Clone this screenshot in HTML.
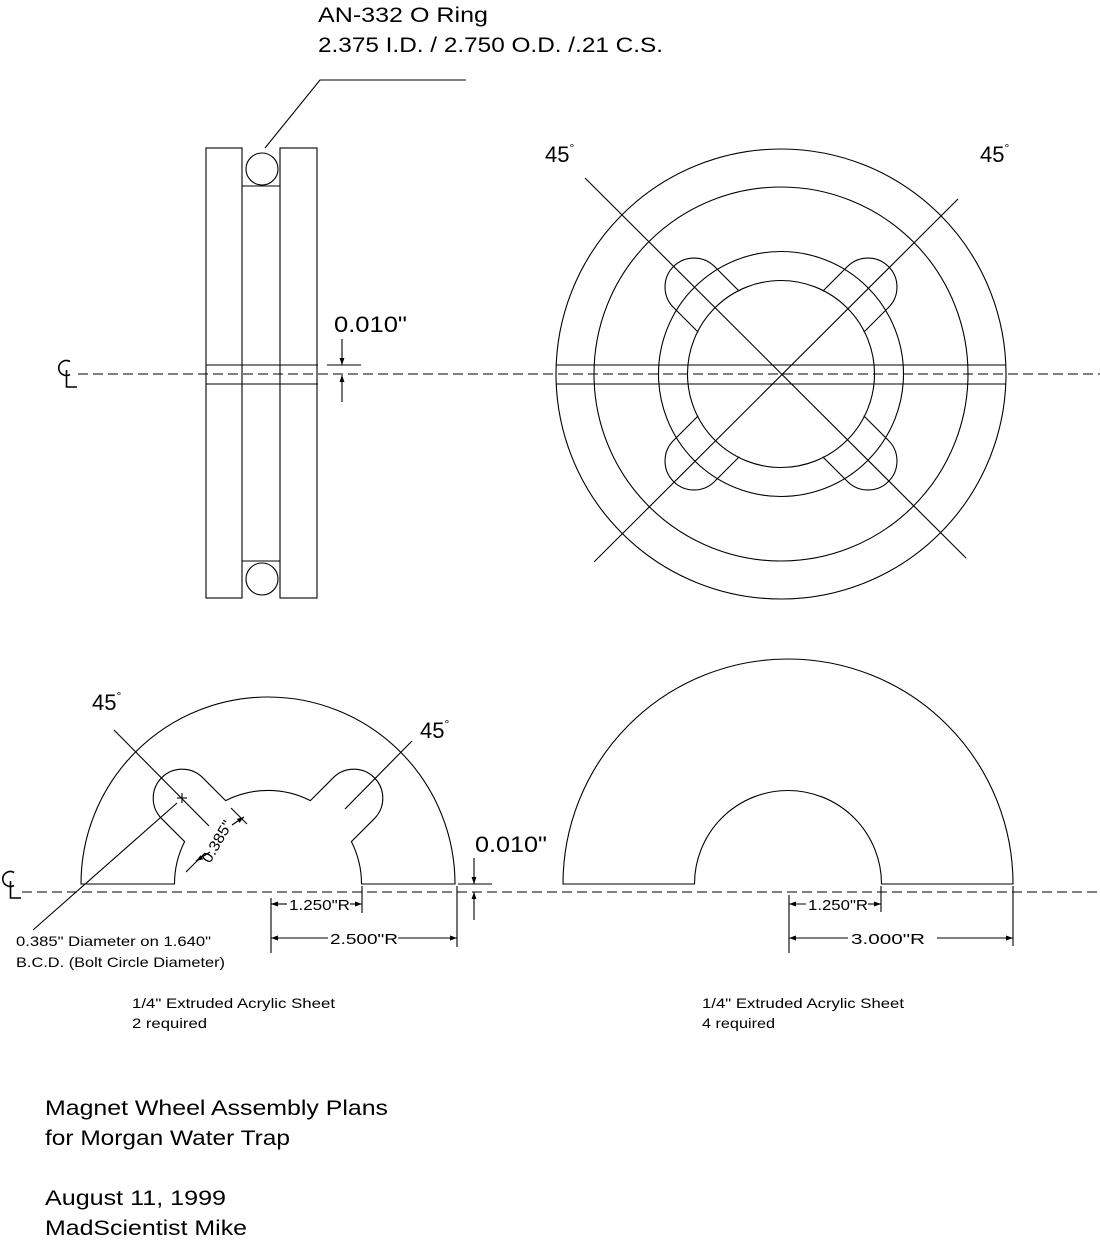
<!DOCTYPE html>
<html><head><meta charset="utf-8"><style>
html,body{margin:0;padding:0;background:#fff;}
svg{display:block;}
text{font-family:"Liberation Sans",sans-serif;fill:#000;}
</style></head><body>
<svg width="1100" height="1242" viewBox="0 0 1100 1242" xmlns="http://www.w3.org/2000/svg">
<defs>
<marker id="ar" viewBox="0 0 10 10" refX="10" refY="5" markerWidth="7" markerHeight="7" orient="auto-start-reverse" markerUnits="userSpaceOnUse"><path d="M0,1.5 L10,5 L0,8.5 Z" fill="#000"/></marker>
</defs>
<g fill="none" stroke="#000" stroke-width="1.1">
<!-- centerlines -->
<line x1="78" y1="374" x2="1100" y2="374" stroke-dasharray="10,5"/>
<line x1="22" y1="892" x2="1100" y2="892" stroke-dasharray="10,5"/>
<!-- CL symbols -->
<path d="M70,361.5 A7.5,7.5 0 1 0 70,374.5" stroke-width="1.6"/>
<path d="M66.5,370 L66.5,387 L77,387" stroke-width="1.6"/>
<path d="M14,872.5 A7.5,7.5 0 1 0 14,885.5" stroke-width="1.6"/>
<path d="M10.5,881 L10.5,898 L21,898" stroke-width="1.6"/>

<!-- side view -->
<rect x="206" y="148" width="36" height="450"/>
<rect x="280" y="148" width="37" height="450"/>
<line x1="242" y1="186" x2="280" y2="186"/>
<line x1="242" y1="561" x2="280" y2="561"/>
<circle cx="262" cy="169" r="16"/>
<circle cx="262" cy="579" r="16"/>
<line x1="206" y1="365" x2="318" y2="365"/>
<line x1="206" y1="384" x2="318" y2="384"/>
<polyline points="265,148 320,80 466,80"/>
<line x1="327" y1="365" x2="361" y2="365"/>
<line x1="342" y1="339" x2="342" y2="365" marker-end="url(#ar)"/>
<line x1="342" y1="402" x2="342" y2="375" marker-end="url(#ar)"/>

<!-- top right assembly -->
<circle cx="781" cy="374" r="225"/>
<circle cx="781" cy="374" r="187"/>
<circle cx="781" cy="374" r="122.5"/>
<circle cx="781" cy="374" r="93.5"/>
<line x1="556" y1="365" x2="1006" y2="365"/>
<line x1="556" y1="384" x2="1006" y2="384"/>
<line x1="585" y1="178" x2="966" y2="558"/>
<line x1="958" y1="199" x2="594" y2="562"/>
<g transform="translate(781,374)">
<path transform="rotate(225)" d="M88,29 L123,29 A29,29 0 0 0 123,-29 L88,-29"/>
<path transform="rotate(315)" d="M88,29 L123,29 A29,29 0 0 0 123,-29 L88,-29"/>
<path transform="rotate(45)" d="M88,29 L123,29 A29,29 0 0 0 123,-29 L88,-29"/>
<path transform="rotate(135)" d="M88,29 L123,29 A29,29 0 0 0 123,-29 L88,-29"/>
</g>

<!-- bottom left piece -->
<path d="M81,884 A187,187 0 0 1 455,884 L361.5,884 A93.5,93.5 0 0 0 351.4,841.6 L374.8,818.2 A29,29 0 0 0 333.8,777.2 L310.4,800.6 A93.5,93.5 0 0 0 225.6,800.6 L202.2,777.2 A29,29 0 0 0 161.2,818.2 L184.6,841.6 A93.5,93.5 0 0 0 174.5,884 Z"/>
<line x1="114" y1="730" x2="209" y2="826"/>
<line x1="412" y1="741" x2="345" y2="809"/>
<line x1="177" y1="798" x2="187" y2="798"/>
<line x1="182" y1="793" x2="182" y2="803"/>
<line x1="177" y1="803" x2="33" y2="930"/>
<line x1="231" y1="808" x2="247" y2="824"/>
<line x1="186" y1="872" x2="205" y2="853"/>
<line x1="232" y1="825" x2="244" y2="817" marker-end="url(#ar)"/>
<line x1="210" y1="852" x2="196" y2="861" marker-end="url(#ar)"/>
<!-- dims left -->
<line x1="271" y1="898" x2="271" y2="953"/>
<line x1="362" y1="886" x2="362" y2="913"/>
<line x1="457" y1="886" x2="457" y2="947"/>
<line x1="287" y1="904" x2="271" y2="904" marker-end="url(#ar)"/>
<line x1="350" y1="904" x2="362" y2="904" marker-end="url(#ar)"/>
<line x1="328" y1="938" x2="271" y2="938" marker-end="url(#ar)"/>
<line x1="398" y1="938" x2="457" y2="938" marker-end="url(#ar)"/>
<line x1="458" y1="884" x2="492" y2="884"/>
<line x1="474" y1="858" x2="474" y2="884" marker-end="url(#ar)"/>
<line x1="474" y1="920" x2="474" y2="892" marker-end="url(#ar)"/>

<!-- bottom right piece -->
<path d="M563,884 A225,225 0 0 1 1013,884 L881.5,884 A93.5,93.5 0 0 0 694.5,884 Z"/>
<line x1="789" y1="895" x2="789" y2="953"/>
<line x1="881" y1="886" x2="881" y2="912"/>
<line x1="1013" y1="886" x2="1013" y2="946"/>
<line x1="806" y1="904" x2="789" y2="904" marker-end="url(#ar)"/>
<line x1="868" y1="904" x2="881" y2="904" marker-end="url(#ar)"/>
<line x1="848" y1="938" x2="789" y2="938" marker-end="url(#ar)"/>
<line x1="937" y1="938" x2="1013" y2="938" marker-end="url(#ar)"/>
</g>

<g>
<text x="318" y="22" font-size="21" textLength="170" lengthAdjust="spacingAndGlyphs">AN-332 O Ring</text>
<text x="318" y="52" font-size="21" textLength="345" lengthAdjust="spacingAndGlyphs">2.375 I.D. / 2.750 O.D. /.21 C.S.</text>
<text x="334" y="332" font-size="22" textLength="73" lengthAdjust="spacingAndGlyphs">0.010"</text>
<text x="545" y="162" font-size="22">45<tspan font-size="12" dy="-10">°</tspan></text>
<text x="980" y="162" font-size="22">45<tspan font-size="12" dy="-10">°</tspan></text>
<text x="92" y="710" font-size="22">45<tspan font-size="12" dy="-10">°</tspan></text>
<text x="420" y="738" font-size="22">45<tspan font-size="12" dy="-10">°</tspan></text>
<text x="475" y="852" font-size="22" textLength="72" lengthAdjust="spacingAndGlyphs">0.010"</text>
<text x="0" y="0" font-size="15" transform="translate(210,864) rotate(-60)" textLength="46" lengthAdjust="spacingAndGlyphs">0.385"</text>
<text x="289" y="910" font-size="15" textLength="61" lengthAdjust="spacingAndGlyphs">1.250"R</text>
<text x="330" y="944" font-size="15" textLength="68" lengthAdjust="spacingAndGlyphs">2.500"R</text>
<text x="808" y="910" font-size="15" textLength="60" lengthAdjust="spacingAndGlyphs">1.250"R</text>
<text x="851" y="944" font-size="15" textLength="74" lengthAdjust="spacingAndGlyphs">3.000"R</text>
<text x="16" y="946" font-size="14" textLength="195" lengthAdjust="spacingAndGlyphs">0.385" Diameter on 1.640"</text>
<text x="16" y="967" font-size="14" textLength="209" lengthAdjust="spacingAndGlyphs">B.C.D. (Bolt Circle Diameter)</text>
<text x="132" y="1008" font-size="14" textLength="203" lengthAdjust="spacingAndGlyphs">1/4" Extruded Acrylic Sheet</text>
<text x="132" y="1028" font-size="14" textLength="75" lengthAdjust="spacingAndGlyphs">2 required</text>
<text x="702" y="1008" font-size="14" textLength="202" lengthAdjust="spacingAndGlyphs">1/4" Extruded Acrylic Sheet</text>
<text x="702" y="1028" font-size="14" textLength="73" lengthAdjust="spacingAndGlyphs">4 required</text>
<text x="45" y="1115" font-size="21" textLength="343" lengthAdjust="spacingAndGlyphs">Magnet Wheel Assembly Plans</text>
<text x="45" y="1145" font-size="21" textLength="245" lengthAdjust="spacingAndGlyphs">for Morgan Water Trap</text>
<text x="45" y="1205" font-size="21" textLength="181" lengthAdjust="spacingAndGlyphs">August 11, 1999</text>
<text x="45" y="1235" font-size="21" textLength="202" lengthAdjust="spacingAndGlyphs">MadScientist Mike</text>
</g>
</svg>
</body></html>
